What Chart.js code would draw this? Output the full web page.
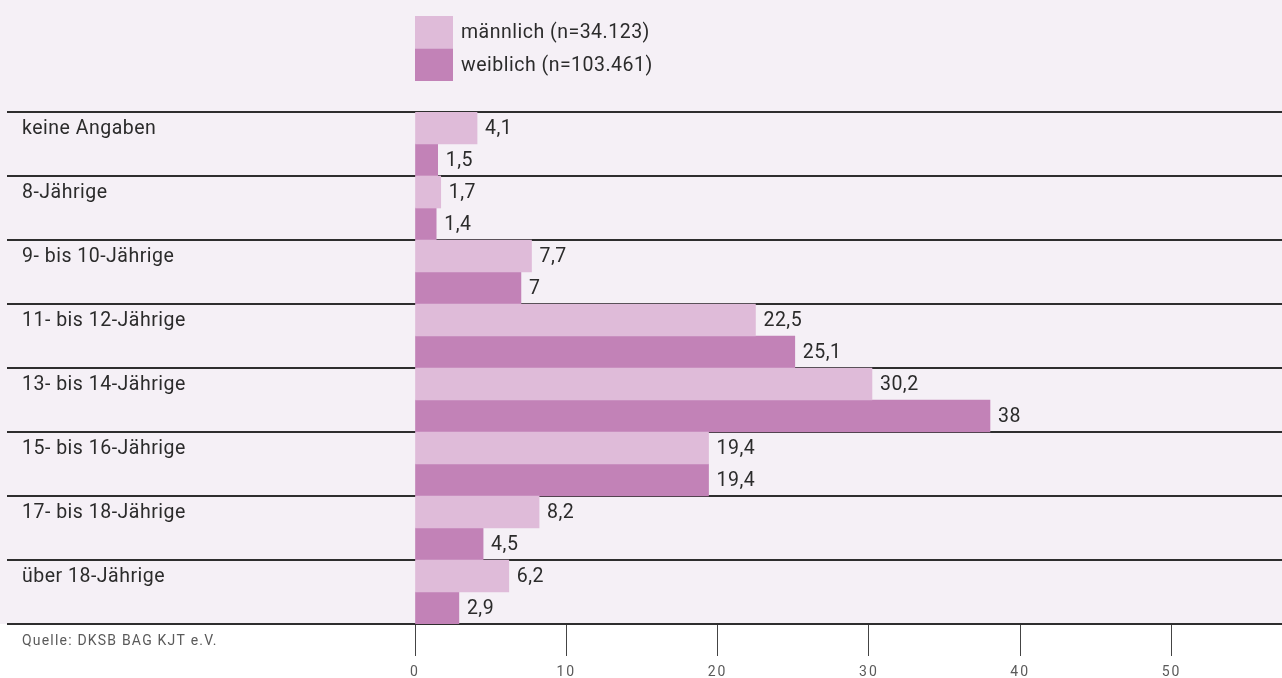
<!DOCTYPE html>
<html lang="de">
<head>
<meta charset="utf-8">
<title>Altersverteilung nach Geschlecht</title>
<script src="https://cdn.jsdelivr.net/npm/chart.js@4/dist/chart.umd.min.js"></script>
<style>
  html, body { margin: 0; padding: 0; background: #ffffff; }
  #wrap { width: 1282px; height: 678px; position: relative; }
</style>
</head>
<body>
<div id="wrap"><canvas id="chart" width="1282" height="678"></canvas></div>
<script>
// Age groups (rows) and the share per group in percent
const categories = [
  'keine Angaben',
  '8-Jährige',
  '9- bis 10-Jährige',
  '11- bis 12-Jährige',
  '13- bis 14-Jährige',
  '15- bis 16-Jährige',
  '17- bis 18-Jährige',
  'über 18-Jährige'
];
const maleValues   = [4.1, 1.7, 7.7, 22.5, 30.2, 19.4, 8.2, 6.2];
const femaleValues = [1.5, 1.4, 7.0, 25.1, 38.0, 19.4, 4.5, 2.9];
const seriesLabels = ['männlich (n=34.123)', 'weiblich (n=103.461)'];
const xTickValues  = [0, 10, 20, 30, 40, 50];
const sourceNote   = 'Quelle: DKSB BAG KJT e.V.';

const COLORS = {
  male: '#dfbbd9',
  female: '#c282b7',
  panel: '#f5f0f6',
  rule: '#2e2e2e',
  text: '#2b2b2b',
  muted: '#5a5a5a'
};
const FONT = 'Roboto, "Liberation Sans", Arial, sans-serif';

function formatValue(v) {
  return String(v).replace('.', ',');
}

// Lavender panel behind the rows and legend, white strip below the axis
const panelPlugin = {
  id: 'panel',
  beforeDraw(chart) {
    const { ctx, chartArea, width, height } = chart;
    ctx.save();
    ctx.fillStyle = '#ffffff';
    ctx.fillRect(0, 0, width, height);
    ctx.fillStyle = COLORS.panel;
    ctx.fillRect(0, 0, width, chartArea.bottom);
    ctx.restore();
    // spaced-out axis numbers
    ctx.letterSpacing = '2px';
  }
};

// Row titles, value labels, legend and source line
const annotatePlugin = {
  id: 'annotate',
  afterDraw(chart) {
    const { ctx, chartArea } = chart;
    const metaMale = chart.getDatasetMeta(0);
    const metaFemale = chart.getDatasetMeta(1);
    ctx.save();
    ctx.letterSpacing = '0.5px';

    // value labels to the right of each bar
    ctx.font = '19.5px ' + FONT;
    ctx.fillStyle = COLORS.text;
    ctx.textAlign = 'left';
    ctx.textBaseline = 'middle';
    [metaMale, metaFemale].forEach((meta, di) => {
      const values = chart.data.datasets[di].data;
      meta.data.forEach((bar, i) => {
        ctx.fillText(formatValue(values[i]), bar.x + 8, bar.y + 1);
      });
    });

    // row titles aligned with the first bar of each group
    metaMale.data.forEach((bar, i) => {
      ctx.fillText(chart.data.labels[i], 22, bar.y + 1);
    });

    // legend: stacked colour boxes with series names
    const lx = chartArea.left;
    const boxW = 38, boxH = 32.5, ly = 16;
    chart.data.datasets.forEach((ds, i) => {
      ctx.fillStyle = ds.backgroundColor;
      ctx.fillRect(lx, ly + i * boxH, boxW, boxH);
      ctx.fillStyle = COLORS.text;
      ctx.fillText(ds.label, lx + 46, ly + i * boxH + boxH / 2 + 1);
    });

    // source note under the last row
    ctx.letterSpacing = '1.2px';
    ctx.font = '14px ' + FONT;
    ctx.fillStyle = COLORS.muted;
    ctx.fillText(sourceNote, 22, chartArea.bottom + 17);

    ctx.restore();
  }
};

new Chart(document.getElementById('chart'), {
  type: 'bar',
  data: {
    labels: categories,
    datasets: [
      { label: seriesLabels[0], data: maleValues, backgroundColor: COLORS.male },
      { label: seriesLabels[1], data: femaleValues, backgroundColor: COLORS.female }
    ]
  },
  options: {
    indexAxis: 'y',
    responsive: false,
    animation: false,
    devicePixelRatio: 1,
    layout: { padding: { top: 112, left: 7, right: 0, bottom: 0 } },
    datasets: { bar: { categoryPercentage: 1, barPercentage: 1, borderWidth: 0 } },
    plugins: {
      legend: { display: false },
      tooltip: { enabled: false }
    },
    scales: {
      x: {
        type: 'linear',
        position: 'bottom',
        min: 0,
        max: 57.3,
        afterFit(scale) { scale.height = 54; },
        afterBuildTicks(scale) {
          scale.ticks = xTickValues.map(v => ({ value: v }));
        },
        border: { display: false },
        grid: {
          drawOnChartArea: false,
          drawTicks: true,
          tickLength: 32,
          color: '#444444',
          lineWidth: 1
        },
        ticks: {
          padding: 8,
          color: COLORS.muted,
          font: { family: FONT, size: 14 },
          maxRotation: 0
        }
      },
      y: {
        type: 'category',
        position: 'left',
        offset: true,
        afterFit(scale) { scale.width = 408; },
        border: { display: false },
        grid: {
          offset: true,
          drawOnChartArea: true,
          drawTicks: true,
          tickLength: 408,
          color: COLORS.rule,
          lineWidth: 2
        },
        ticks: { display: false }
      }
    }
  },
  plugins: [panelPlugin, annotatePlugin]
});
</script>
</body>
</html>
